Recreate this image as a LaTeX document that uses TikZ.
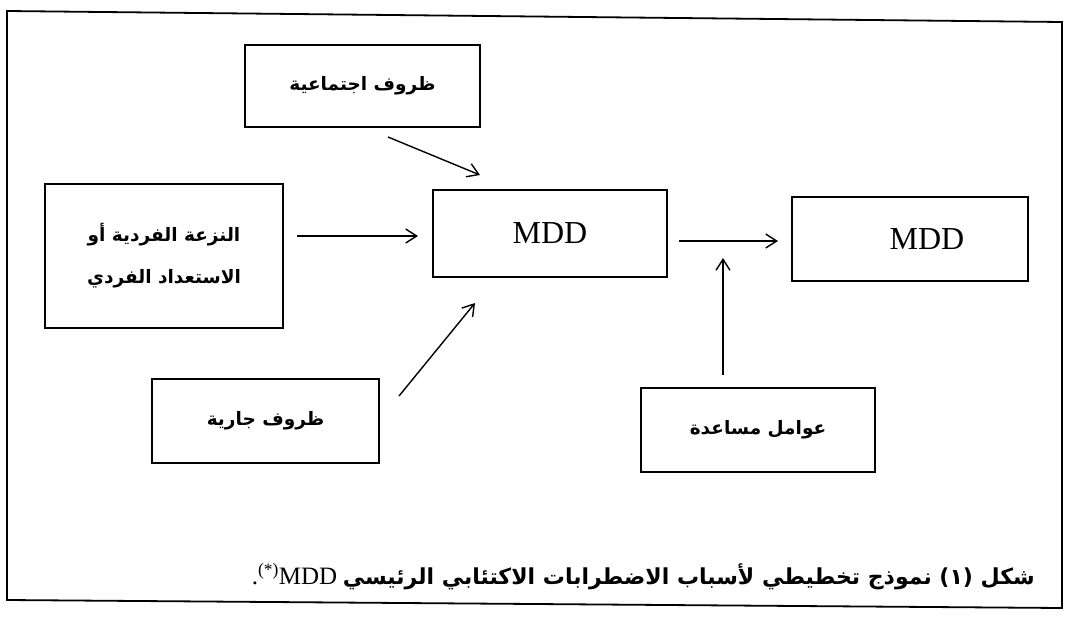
\documentclass[tikz,border=0pt]{standalone}
\usepackage{fontspec}
\setmainfont{Liberation Serif}
\newfontfamily\arabicfont[Script=Arabic]{DejaVu Sans}
\TeXXeTstate=1
\usetikzlibrary{arrows.meta}
\newcommand\artxt[1]{{\arabicfont\bfseries\beginR #1\endR}}
\tikzset{
  box/.style={draw, line width=1.8pt, inner sep=0pt, align=center, font=\fontsize{18.5}{40}\selectfont},
  mddtxt/.style={font=\fontsize{32}{36}\selectfont},
  arr/.style={line width=1.4pt, -{Straight Barb[length=11pt,width=14pt,line width=1.4pt]}},
  frame/.style={line width=1.8pt}
}
\begin{document}
\begin{tikzpicture}[x=1pt,y=-1pt]
\useasboundingbox (0,0) rectangle (1066,619);
\draw[frame] (7,11) -- (1062,22) -- (1062,608) -- (7,600) -- cycle;

\node[box, minimum width=235pt, minimum height=82pt] (soc) at (362.5,86) {\artxt{ظروف اجتماعية}};
\node[box, minimum width=238pt, minimum height=144pt] (ind) at (164,256) {\artxt{النزعة الفردية أو}\\[2pt]\artxt{الاستعداد الفردي}};
\node[box, mddtxt, minimum width=234pt, minimum height=87pt] (mddA) at (550,233.5) {\raisebox{-3pt}{MDD}};
\node[box, mddtxt, minimum width=236pt, minimum height=84pt] (mddB) at (910,239) {\hspace*{34pt}\raisebox{-2pt}{MDD}};
\node[box, minimum width=227pt, minimum height=84pt] (cur) at (265.5,421) {\artxt{ظروف جارية}};
\node[box, minimum width=234pt, minimum height=84pt] (aux) at (758,430) {\artxt{عوامل مساعدة}};

\coordinate (s1) at (388,137); \coordinate (e1) at (480,175);
\coordinate (s2) at (297,236); \coordinate (e2) at (418,236);
\coordinate (s3) at (399,396); \coordinate (e3) at (475,303);
\coordinate (s4) at (679,241); \coordinate (e4) at (778,241);
\coordinate (s5) at (723,375); \coordinate (e5) at (723,258);
\draw[arr] (s1) -- (e1);
\draw[arr] (s2) -- (e2);
\draw[arr] (s3) -- (e3);
\draw[arr] (s4) -- (e4);
\draw[arr] (s5) -- (e5);

\node[anchor=east, inner sep=0pt, font=\fontsize{22}{26}\selectfont] (cap) at (1035,577)
  {{\rmfamily\mdseries\fontsize{25}{28}\selectfont .\textsuperscript{(*)}MDD} {\arabicfont\bfseries\beginR شكل (١) نموذج تخطيطي لأسباب الاضطرابات الاكتئابي الرئيسي\endR}};
\end{tikzpicture}
\end{document}
